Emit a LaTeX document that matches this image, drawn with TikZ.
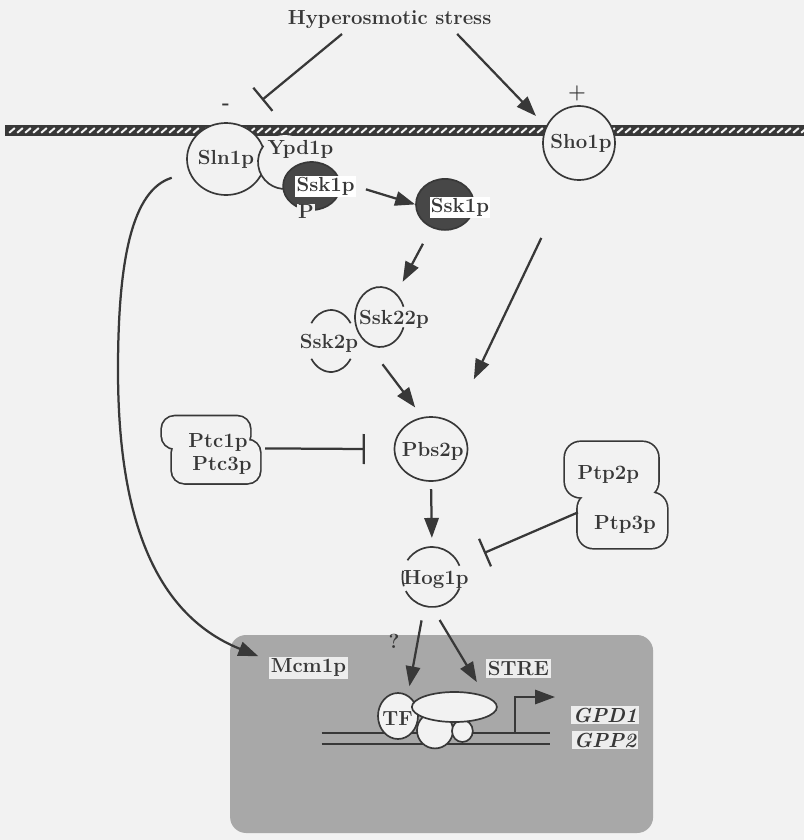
\documentclass[tikz,border=0pt]{standalone}
\usepackage{fontspec}
\usetikzlibrary{arrows.meta,positioning,shapes.geometric}
\definecolor{paper}{gray}{0.95}
\definecolor{ink}{gray}{0.22}

\begin{document}
\begin{tikzpicture}[
  font=\fontsize{14.5}{17}\selectfont\bfseries, text=ink,
  prot/.style={draw=ink, fill=paper, ellipse, line width=1.2pt, inner sep=0pt},
  ring/.style={ellipse, inner sep=0pt},
  dark/.style={draw=ink, fill=black!72, ellipse, line width=1.2pt, inner sep=0pt},
  wlbl/.style={fill=white, inner sep=1pt},
  tag/.style={fill=black!7, inner sep=1.5pt},
  rim/.style={draw=ink, line width=1.2pt},
  pbox/.style={draw=ink, rounded corners=9pt, line width=2.4pt, outer sep=0pt},
  pfill/.style={fill=paper, rounded corners=9pt},
  nucleus/.style={fill=black!34, rounded corners=0.4cm, inner sep=0pt},
  act/.style={-{Triangle[length=5mm,width=3.6mm]}, line width=1.6pt, ink},
  inh/.style={-{Bar[width=7.5mm,line width=1.6pt]}, line width=1.6pt, ink}
]
\useasboundingbox[fill=paper] (0,0) rectangle (20.1,-21);
% nucleus
\node[nucleus, minimum width=10.575cm, minimum height=4.95cm] (nuc) at (11.04,-18.35) {};
% membrane
\fill[ink] (0.125,-3.125) rectangle (20.1,-3.4);
\foreach \x in {0.3,0.5,...,20.1}
  \draw[paper, line width=1.4pt] (\x-0.07,-3.32) -- (\x+0.07,-3.2);
% signal
\node (stress) at (9.74,-0.5) {Hyperosmotic stress};
\node (minus) at (5.65,-2.675) {-};
\node (plus) at (14.425,-2.325) {+};
\coordinate (slnblk) at (6.55,-2.5);
\coordinate (shotip) at (13.4,-2.9);
\draw[inh] ([xshift=-1.19cm]stress.south) -- (slnblk);
\draw[act] ([xshift=1.69cm]stress.south) -- (shotip);
% sensors
\node[prot, minimum width=1.95cm, minimum height=1.8cm] (sln) at (5.65,-3.975) {};
\coordinate (ypdc) at (7.125,-4.05);
\fill[paper] (ypdc) circle (0.675cm);
\draw[rim] (ypdc) ++(143:0.675cm) arc[start angle=143,end angle=275,radius=0.675cm];
\node (slntxt) at (sln) {Sln1p};
\node (ypd) at (7.51,-3.725) {Ypd1p};
\node[dark, minimum width=1.425cm, minimum height=1.2cm] (sskp) at (7.79,-4.65) {};
\node[wlbl] (sskptxt) at (8.14,-4.66) {Ssk1p};
\node[tag, fill=paper, inner sep=0.5pt] (phos) at (7.65,-5.28) {P};
\node[prot, minimum width=1.8cm, minimum height=1.85cm] (sho) at (14.475,-3.575) {};
\node (shotxt) at (14.525,-3.575) {Sho1p};
% MAPKKK
\node[dark, minimum width=1.45cm, minimum height=1.275cm] (ssk) at (11.125,-5.11) {};
\node[wlbl] (ssktxt) at (11.5,-5.175) {Ssk1p};
\node[ring, minimum width=1.25cm, minimum height=1.5cm] (ssk22) at (9.5,-7.925) {};
\node[ring, minimum width=1.2cm, minimum height=1.55cm] (ssk2) at (8.275,-8.525) {};
\draw[rim] (ssk22.center) ++(20:0.625cm and 0.75cm) arc[start angle=20,end angle=340,x radius=0.625cm,y radius=0.75cm];
\draw[rim] (ssk2.center) ++(35:0.6cm and 0.775cm) arc[start angle=35,end angle=145,x radius=0.6cm,y radius=0.775cm];
\draw[rim] (ssk2.center) ++(215:0.6cm and 0.775cm) arc[start angle=215,end angle=325,x radius=0.6cm,y radius=0.775cm];
\node (ssk22txt) at (9.85,-7.975) {Ssk22p};
\node (ssk2txt) at (8.225,-8.59) {Ssk2p};
% MAPKK
\node[prot, minimum width=1.825cm, minimum height=1.6cm] (pbs) at (10.775,-11.225) {};
\node (pbstxt) at (10.82,-11.275) {Pbs2p};
\node[pbox, minimum width=2.2cm, minimum height=0.8cm] (ptc1box) at (5.15,-10.81) {};
\node[pbox, minimum width=2.2cm, minimum height=1.075cm] (ptc3box) at (5.4,-11.54) {};
\fill[pfill] (ptc1box.south west) rectangle (ptc1box.north east);
\fill[pfill] (ptc3box.south west) rectangle (ptc3box.north east);
\node (ptc1) at (5.45,-11.05) {Ptc1p};
\node (ptc3) at (5.55,-11.64) {Ptc3p};
% MAPK
\node[ring, minimum width=1.48cm, minimum height=1.5cm] (hog) at (10.8,-14.425) {};
\draw[rim] (hog.center) ++(22:0.74cm and 0.75cm) arc[start angle=22,end angle=146,x radius=0.74cm,y radius=0.75cm];
\draw[rim] (hog.center) ++(168:0.74cm and 0.75cm) arc[start angle=168,end angle=198,x radius=0.74cm,y radius=0.75cm];
\draw[rim] (hog.center) ++(208:0.74cm and 0.75cm) arc[start angle=208,end angle=338,x radius=0.74cm,y radius=0.75cm];
\node (hogtxt) at (10.9,-14.485) {Hog1p};
\node[pbox, rounded corners=11pt, minimum width=2.325cm, minimum height=1.375cm] (ptp2box) at (15.29,-11.74) {};
\node[pbox, rounded corners=11pt, minimum width=2.225cm, minimum height=1.375cm] (ptp3box) at (15.56,-13.01) {};
\fill[pfill, rounded corners=11pt] (ptp2box.south west) rectangle (ptp2box.north east);
\fill[pfill, rounded corners=11pt] (ptp3box.south west) rectangle (ptp3box.north east);
\node (ptp2) at (15.21,-11.85) {Ptp2p};
\node (ptp3) at (15.625,-13.1) {Ptp3p};
% transcription
\node[tag] (mcm) at (7.71,-16.69) {Mcm1p};
\node[tag] (stre) at (12.96,-16.71) {STRE};
\node[tag] (gpd) at (15.125,-17.875) {\itshape GPD1};
\node[tag] (gpp) at (15.125,-18.5) {\itshape GPP2};
\node (qm) at (9.85,-16.025) {?};
\draw[rim] (8.04,-18.32) -- (13.75,-18.32);
\draw[rim] (8.04,-18.6) -- (13.75,-18.6);
\node[prot, minimum width=1.0cm, minimum height=1.15cm] (tf) at (9.95,-17.9) {};
\node[prot, minimum size=0.9cm] (pol) at (10.875,-18.26) {};
\node[prot, minimum width=0.52cm, minimum height=0.55cm] (tbp) at (11.56,-18.275) {};
\node[prot, minimum width=2.125cm, minimum height=0.75cm] (med) at (11.36,-17.675) {};
\node (tftxt) at (9.94,-17.96) {TF};
\coordinate (tss) at (12.875,-18.32);
\coordinate (tssend) at (13.875,-17.425);
\draw[act, line width=1.3pt] (tss) |- (tssend);
% connectors
\draw[act, shorten <=0.25cm] (sskptxt.east) -- (ssk.west);
\draw[act, shorten <=0.45cm, shorten >=0.34cm] (ssk.240) -- (ssk22.55);
\draw[act, shorten <=0.7cm, shorten >=0.3cm] (ssk22.240) -- (pbs.105);
\draw[act, shorten <=1.62cm, shorten >=1.2cm] (sho.255) -- (pbs.50);
\draw[inh] ([xshift=0.38cm]ptc1box.south east) -- ([xshift=-0.72cm]pbs.west);
\draw[act, shorten <=0.18cm, shorten >=0.22cm] (pbs.south) -- (hog.north);
\coordinate (hogblk) at (12.1,-13.825);
\draw[inh] ([yshift=0.2cm]ptp3box.west) -- (hogblk);
\draw[act, shorten <=0.36cm, shorten >=0.22cm] (hog.255) -- (tf.65);
\draw[act, shorten <=0.37cm, shorten >=0.4cm] (hog.270) -- (med.20);
\draw[act, shorten <=0.45cm] (sln.200) .. controls (3.3,-4.75) and (2.95,-6.5) .. (2.95,-9.25)
  .. controls (2.95,-12.6) and (3.7,-15.3) .. ([xshift=-0.25cm]mcm.north west);
\end{tikzpicture}
\end{document}
